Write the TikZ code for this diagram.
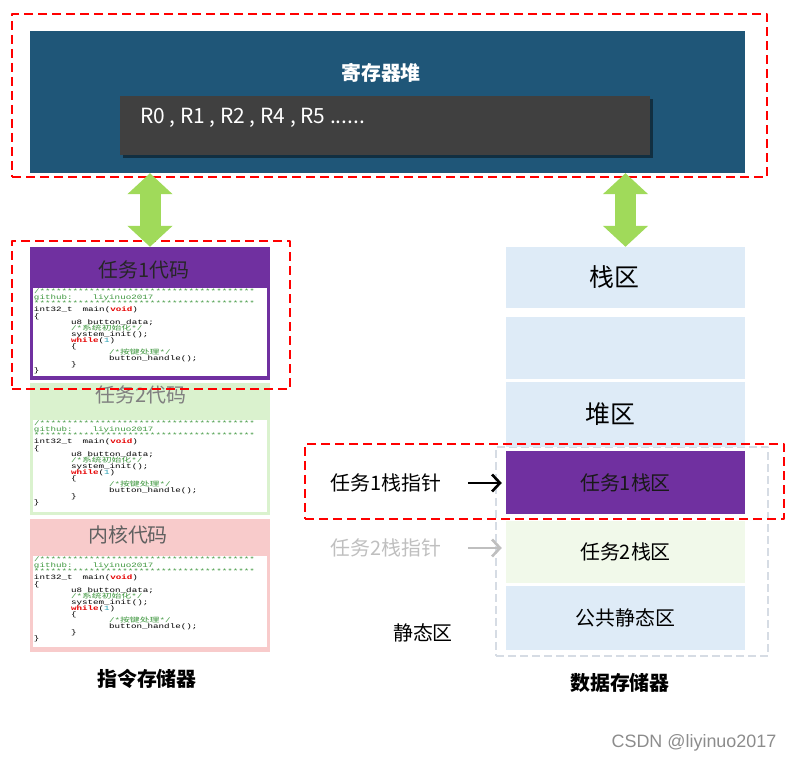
\documentclass[tikz,border=0pt]{standalone}
\usepackage{fontspec}
\setmainfont{Noto Sans CJK SC}
\newfontfamily\codefont[FakeStretch=1.4]{Liberation Mono}
\newfontfamily\codecjk[FakeStretch=1.5]{Noto Sans CJK SC}
\newfontfamily\wmfont{Liberation Sans}
\usetikzlibrary{arrows.meta,shadows}

\definecolor{regblue}{RGB}{31,86,120}
\definecolor{reggrey}{RGB}{64,64,64}
\definecolor{taskpurple}{RGB}{112,48,160}
\definecolor{taskgreen}{RGB}{218,242,206}
\definecolor{kernpink}{RGB}{248,203,203}
\definecolor{cellblue}{RGB}{222,235,247}
\definecolor{cellgreen}{RGB}{241,249,234}
\definecolor{framegrey}{RGB}{214,220,228}
\definecolor{dashred}{RGB}{255,0,0}
\definecolor{linkgreen}{RGB}{160,218,90}
\definecolor{ptrgrey}{RGB}{191,191,191}
\definecolor{titlegrey}{RGB}{128,128,128}
\definecolor{kerngrey}{RGB}{96,96,96}
\definecolor{wmgrey}{RGB}{140,140,140}
\definecolor{codegreen}{RGB}{60,150,60}
\definecolor{codered}{RGB}{230,0,0}
\definecolor{codecyan}{RGB}{40,160,180}

% tight listing font
\newcommand\codesize{\codefont\fontsize{6.6}{6.1}\selectfont\lineskiplimit=-6pt\relax\lineskip=0pt\relax}
% the code listing shown in each box
\newcommand\codelines{%
{\color{codegreen}/***************************************}\\
{\color{codegreen}github:\hspace*{20bp}liyinuo2017}\\
{\color{codegreen}****************************************}\\
int32\_t\hspace*{10bp}main({\color{codered}\bfseries void})\\
\{\\
\hspace*{37bp}u8 button\_data;\\
\hspace*{37bp}{\color{codegreen}/*{\codecjk 系统初始化}*/}\\
\hspace*{37bp}system\_init();\\
\hspace*{37bp}{\color{codered}\bfseries while}({\color{codecyan}1})\\
\hspace*{37bp}\{\\
\hspace*{75bp}{\color{codegreen}/*{\codecjk 按键处理}*/}\\
\hspace*{75bp}button\_handle();\\
\hspace*{37bp}\}\\
\}}

\begin{document}
\begin{tikzpicture}[>=latex,line join=bevel,
  box/.style={rectangle,inner sep=0pt},
  area/.style={box,fill=white},
  codetxt/.style={anchor=north west,inner sep=1bp,align=left,font=\codesize},
  big/.style={font=\fontsize{20}{24}\selectfont},
  heavy/.style={font=\fontsize{20}{24}\selectfont\bfseries},
  redframe/.style={box,draw=dashred,line width=2.5bp,dash pattern=on 9bp off 5bp},
  link/.style={draw=linkgreen,line width=21bp,arrows={Triangle[length=21bp,width=44bp]-Triangle[length=21bp,width=44bp]}},
  ptr/.style={line width=2.6bp,-{Straight Barb[length=8bp,width=17bp]}},
]
%%
\useasboundingbox (0bp,0bp) rectangle (797bp,764bp);
\node (regs) at (387.5bp,662bp) [box,fill=regblue,minimum width=715bp,minimum height=142bp] {};
  \node (regtitle) at (381bp,691bp) [text=white,font=\fontsize{20}{24}\selectfont\bfseries] {寄存器堆};
  \node (reglist) at (385bp,638.5bp) [box,fill=reggrey,minimum width=530bp,minimum height=59bp,
    drop shadow={shadow xshift=3bp,shadow yshift=-3bp,fill=black,opacity=0.45}] {};
  \node (regnames) at (140bp,646bp) [anchor=west,inner sep=0pt,text=white,font=\fontsize{21}{24}\selectfont] {R0 , R1 , R2 , R4 , R5 ......};
%
  \node (code1) at (150bp,450.5bp) [box,fill=taskpurple,minimum width=240bp,minimum height=133bp] {};
  \node (code1title) at (144bp,494bp) [big,text=black!85] {任务1代码};
  \node (code1area) at (150bp,432bp) [area,minimum width=234bp,minimum height=88bp] {};
  \node (code1text) at (code1area.north west) [codetxt] {\codelines};
  \node (code2) at (150bp,315bp) [box,fill=taskgreen,minimum width=240bp,minimum height=132bp] {};
  \node (code2title) at (141bp,369bp) [big,text=titlegrey] {任务2代码};
  \node (code2area) at (150bp,298bp) [area,minimum width=234bp,minimum height=92bp] {};
  \node (code2text) at (code2area.north west) [codetxt] {\codelines};
  \node (code3) at (150bp,178.5bp) [box,fill=kernpink,minimum width=240bp,minimum height=133bp] {};
  \node (code3title) at (128bp,229bp) [big,text=kerngrey] {内核代码};
  \node (code3area) at (150bp,162.5bp) [area,minimum width=234bp,minimum height=91bp] {};
  \node (code3text) at (code3area.north west) [codetxt] {\codelines};
  \node (imem) at (147bp,85bp) [heavy] {指令存储器};
%
  \node (static) at (632bp,212.5bp) [box,draw=framegrey,line width=2bp,dash pattern=on 8bp off 4bp,minimum width=272bp,minimum height=209bp] {};
  \node (stack) at (625.5bp,486.5bp) [box,fill=cellblue,minimum width=239bp,minimum height=61bp,font=\fontsize{25}{30}\selectfont] {栈区\hspace*{22bp}};
  \node (gap) at (625.5bp,416bp) [box,fill=cellblue,minimum width=239bp,minimum height=62bp] {};
  \node (heap) at (625.5bp,349.5bp) [box,fill=cellblue,minimum width=239bp,minimum height=65bp,font=\fontsize{25}{30}\selectfont] {堆区\hspace*{30bp}};
  \node (stk1) at (625.5bp,281.5bp) [box,fill=taskpurple,minimum width=239bp,minimum height=63bp,big,text=black!90] {任务1栈区};
  \node (stk2) at (625.5bp,212bp) [box,fill=cellgreen,minimum width=239bp,minimum height=62bp,big] {任务2栈区};
  \node (pub) at (625.5bp,146bp) [box,fill=cellblue,minimum width=239bp,minimum height=64bp,big] {公共静态区};
  \node (sp1) at (386bp,281bp) [big] {任务1栈指针};
  \node (sp2) at (386bp,216bp) [big,text=ptrgrey] {任务2栈指针};
  \node (statlbl) at (423bp,131bp) [big] {静态区};
  \node (dmem) at (620bp,81bp) [heavy] {数据存储器};
  \node (mark) at (694bp,21bp) [font=\wmfont\fontsize{18}{20}\selectfont,text=wmgrey] {CSDN @liyinuo2017};
%
  \node (regframe) at (389.5bp,668.5bp) [redframe,minimum width=755bp,minimum height=163bp] {};
  \node (task1frame) at (151bp,449bp) [redframe,minimum width=278bp,minimum height=148bp] {};
  \node (stk1frame) at (544.5bp,282.5bp) [redframe,minimum width=479bp,minimum height=75bp] {};
  \draw [ptr,shorten <=23bp,shorten >=4bp] (sp1.east) -- (sp1.east -| stk1.west);
  \draw [ptr,draw=ptrgrey,shorten <=23bp,shorten >=4bp] (sp2.east) -- (sp2.east -| stk2.west);
  \draw [link] (regs.south -| code1.north) -- (code1.north);
  \draw [link] (regs.south -| stack.north) -- (stack.north);
%
\end{tikzpicture}
\end{document}
